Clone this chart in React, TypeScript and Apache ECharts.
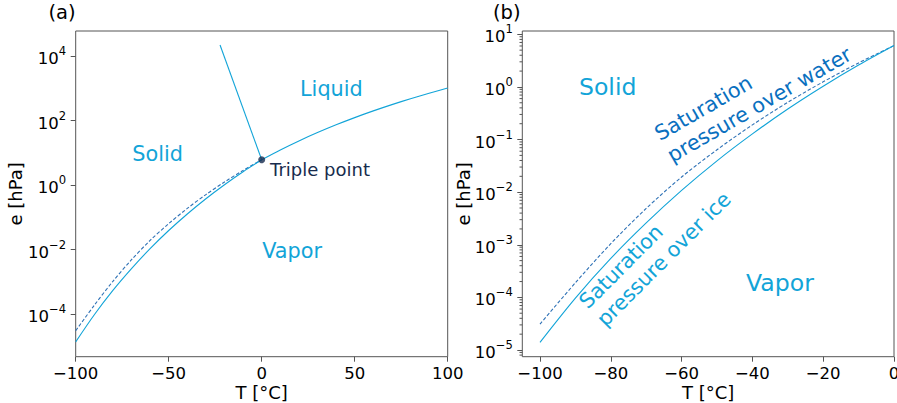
import React, { useEffect, useRef } from "react";
import * as echarts from "echarts";

// ---- data ----
const T_COLD = [-100, -90, -80, -70, -60, -50, -40, -30, -20, -10, 0];
const E_ICE = [1.4e-5, 9.7e-5, 5.5e-4, 2.6e-3, 1.08e-2, 3.94e-2, 0.128, 0.38, 1.03, 2.6, 6.11];
const E_WATER_COLD = [3.1e-5, 1.9e-4, 1.05e-3, 4.9e-3, 1.94e-2, 6.4e-2, 0.19, 0.51, 1.25, 2.86, 6.11];
const T_WARM = [0, 10, 20, 30, 40, 50, 60, 70, 80, 90, 100];
const E_WATER_WARM = [6.11, 12.3, 23.4, 42.4, 73.8, 123.4, 199.3, 311.8, 473.7, 701, 1013];
const MELT_T = [0, -22.4];
const MELT_E = [6.11, 2.19e4];
const TRIPLE_T = [0];
const TRIPLE_E = [6.11];

// axis ranges and ticks
const A_X_RANGE = [-100, 100];
const A_Y_RANGE = [4.86e-6, 5.94e4];
const B_X_RANGE = [-105, 0];
const B_Y_RANGE = [7.46e-6, 11.56];
const A_X_TICKS = [-100, -50, 0, 50, 100];
const A_Y_TICKS = [1e-4, 1e-2, 1, 1e2, 1e4];
const B_X_TICKS = [-100, -80, -60, -40, -20, 0];
const B_Y_TICKS = [1e-5, 1e-4, 1e-3, 1e-2, 1e-1, 1, 10];
const B_MINOR_MULT = [2, 3, 4, 5, 6, 7, 8, 9];
const B_MINOR_DECADES = [-6, -5, -4, -3, -2, -1, 0, 1];

// annotations
const A_LABEL_TEXT = ["Solid", "Liquid", "Vapor", "Triple point"];
const A_LABEL_T = [-69.6, 20.6, 0.3, 4.5];
const A_LABEL_E = [9.5, 970, 0.0089, 2.95];
const B_LABEL_TEXT = ["Solid", "Vapor", "Saturation\npressure over water", "Saturation\npressure over ice"];
const B_LABEL_T = [-89, -41.8, -65.3, -85.4];
const B_LABEL_E = [1, 1.84e-4, 0.0753, 4.9e-5];

// ---- styles ----
const FONT = '"DejaVu Sans", sans-serif';
const LIGHT = "#12a4d8";
const DARK = "#0a70bf";
const DASH = "#2f72b6";
const NAVY = "#172b4d";
const FRAME = "#555555";
const A_LABEL_STYLE = [
  { color: LIGHT, size: 20.8, rot: 0 },
  { color: LIGHT, size: 20.8, rot: 0 },
  { color: LIGHT, size: 20.8, rot: 0 },
  { color: NAVY, size: 18, rot: 0 },
];
const B_LABEL_STYLE = [
  { color: LIGHT, size: 23.6, rot: 0 },
  { color: LIGHT, size: 23.6, rot: 0 },
  { color: DARK, size: 20.8, rot: 30 },
  { color: LIGHT, size: 20.8, rot: 45 },
];

const fmtPow = (v: number) => {
  const n = Math.round(Math.log10(v));
  const e = n < 0 ? "\u2212" + Math.abs(n) : String(n);
  return "{b|10}{s|" + e + "}";
};
const POW_RICH = {
  b: { fontSize: 16.5, fontFamily: FONT, color: "#000", lineHeight: 22, verticalAlign: "bottom" },
  s: { fontSize: 11.6, fontFamily: FONT, color: "#000", lineHeight: 12, verticalAlign: "top" },
};
const fmtLin = (v: number) => (v < 0 ? "\u2212" + Math.abs(v) : String(v));

const zip = (xs: number[], ys: number[]) => xs.map((x, i) => [x, ys[i]]);

function xAxis(grid: number, range: number[], ticks: number[]) {
  return {
    type: "value",
    gridIndex: grid,
    min: range[0],
    max: range[1],
    name: "T [\u00b0C]",
    nameLocation: "middle",
    nameGap: 27,
    nameMoveOverlap: false,
    nameTextStyle: { fontSize: 18, fontFamily: FONT, color: "#000" },
    axisLine: { show: false, onZero: false },
    splitLine: { show: false },
    axisTick: { show: true, customValues: ticks, length: 5, lineStyle: { color: FRAME, width: 1 } },
    axisLabel: { customValues: ticks, formatter: fmtLin, fontSize: 16.5, fontFamily: FONT, color: "#000", margin: 8 },
  };
}
function yAxis(grid: number, range: number[], ticks: number[], gap: number) {
  return {
    type: "log",
    logBase: 10,
    gridIndex: grid,
    min: range[0],
    max: range[1],
    name: "e [hPa]",
    nameLocation: "middle",
    nameGap: gap,
    nameMoveOverlap: false,
    nameTextStyle: { fontSize: 18, fontFamily: FONT, color: "#000" },
    axisLine: { show: false, onZero: false },
    splitLine: { show: false },
    minorTick: { show: false },
    axisTick: { show: true, customValues: ticks, length: 5, lineStyle: { color: FRAME, width: 1 } },
    axisLabel: { customValues: ticks, formatter: fmtPow, rich: POW_RICH, margin: 9.5 },
  };
}

function labelSeries(xi: number, texts: string[], ts: number[], es: number[], styles: any[]) {
  return {
    type: "custom",
    xAxisIndex: xi,
    yAxisIndex: xi,
    silent: true,
    clip: false,
    z: 10,
    data: ts.map((t, i) => [t, es[i], i]),
    renderItem: (_p: any, api: any) => {
      const i = api.value(2);
      const pt = api.coord([api.value(0), api.value(1)]);
      const st = styles[i];
      return {
        type: "text",
        x: pt[0],
        y: pt[1],
        rotation: (st.rot * Math.PI) / 180,
        style: {
          text: texts[i],
          fill: st.color,
          fontSize: st.size,
          fontFamily: FONT,
          align: "left",
          verticalAlign: "middle",
          lineHeight: st.size * 1.2,
        },
      };
    },
  };
}

export default function App() {
  const ref = useRef<HTMLDivElement>(null);
  useEffect(() => {
    if (!ref.current) return;
    const chart = echarts.init(ref.current, null, { renderer: "svg" });
    const minor: number[][] = [];
    B_MINOR_DECADES.forEach((d) =>
      B_MINOR_MULT.forEach((m) => {
        const v = m * Math.pow(10, d);
        if (v > B_Y_RANGE[0] && v < B_Y_RANGE[1]) minor.push([B_X_RANGE[0], v]);
      })
    );
    const solid = (xi: number, data: number[][], color = LIGHT) => ({
      type: "line",
      xAxisIndex: xi,
      yAxisIndex: xi,
      data,
      showSymbol: false,
      smooth: 0.3,
      lineStyle: { color, width: 1.1 },
      silent: true,
    });
    const dashed = (xi: number, data: number[][]) => ({
      type: "line",
      xAxisIndex: xi,
      yAxisIndex: xi,
      data,
      showSymbol: false,
      smooth: 0.3,
      lineStyle: { color: DASH, width: 1.1, type: [3.5, 2] },
      silent: true,
    });
    const gridBase = {
      top: 31,
      height: 325.7,
      show: true,
      borderColor: FRAME,
      borderWidth: 1,
      backgroundColor: "transparent",
      containLabel: false,
      outerBoundsMode: "none",
    };
    chart.setOption({
      animation: false,
      title: [
        { text: "(a)", left: 48.5, top: 2.5, padding: 0, textStyle: { fontSize: 19.5, fontWeight: "normal", fontFamily: FONT, color: "#000" } },
        { text: "(b)", left: 493, top: 2.5, padding: 0, textStyle: { fontSize: 19.5, fontWeight: "normal", fontFamily: FONT, color: "#000" } },
      ],
      grid: [
        { ...gridBase, left: 75.7, width: 372 },
        { ...gridBase, left: 522.3, width: 371.7 },
      ],
      xAxis: [xAxis(0, A_X_RANGE, A_X_TICKS), xAxis(1, B_X_RANGE, B_X_TICKS)],
      yAxis: [yAxis(0, A_Y_RANGE, A_Y_TICKS, 51), yAxis(1, B_Y_RANGE, B_Y_TICKS, 50)],
      series: [
        dashed(0, zip(T_COLD, E_WATER_COLD)),
        solid(0, zip(T_COLD, E_ICE)),
        solid(0, zip(T_WARM, E_WATER_WARM)),
        { ...solid(0, zip(MELT_T, MELT_E)), smooth: false },
        {
          type: "scatter",
          xAxisIndex: 0,
          yAxisIndex: 0,
          data: zip(TRIPLE_T, TRIPLE_E),
          symbolSize: 7,
          itemStyle: { color: NAVY },
          z: 5,
          silent: true,
        },
        labelSeries(0, A_LABEL_TEXT, A_LABEL_T, A_LABEL_E, A_LABEL_STYLE),
        dashed(1, zip(T_COLD, E_WATER_COLD)),
        solid(1, zip(T_COLD, E_ICE)),
        labelSeries(1, B_LABEL_TEXT, B_LABEL_T, B_LABEL_E, B_LABEL_STYLE),
        {
          type: "custom",
          xAxisIndex: 1,
          yAxisIndex: 1,
          silent: true,
          clip: false,
          data: minor,
          renderItem: (_p: any, api: any) => {
            const pt = api.coord([api.value(0), api.value(1)]);
            return {
              type: "line",
              shape: { x1: pt[0] - 2.8, y1: pt[1], x2: pt[0], y2: pt[1] },
              style: { stroke: FRAME, lineWidth: 1 },
            };
          },
        },
      ],
    });
    return () => chart.dispose();
  }, []);
  return <div ref={ref} style={{ position: "absolute", left: 0, top: 0, width: 897, height: 403 }} />;
}
